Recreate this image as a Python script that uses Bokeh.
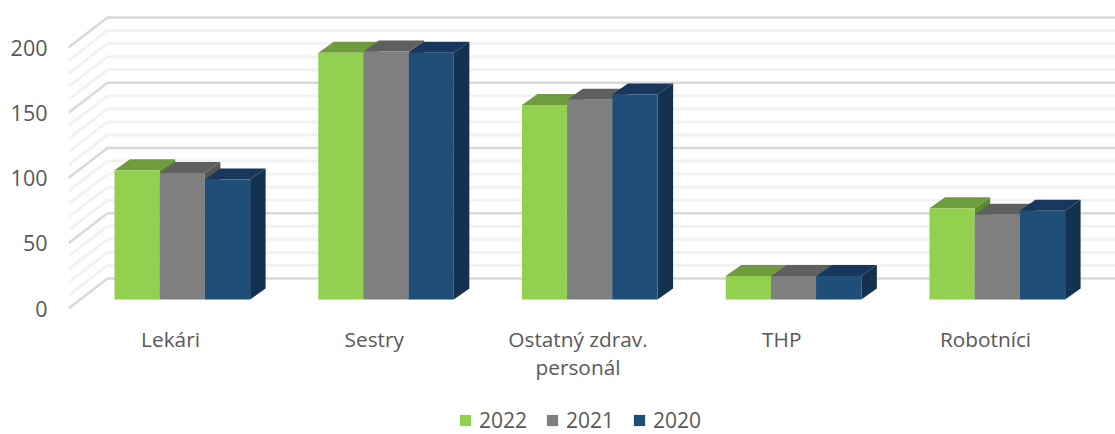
from bokeh.plotting import figure
from bokeh.models import Legend, LegendItem, FixedTicker, ColumnDataSource
from bokeh.core.properties import value
from bokeh.embed import file_html
from bokeh.resources import INLINE

categories = ["Lekári", "Sestry", "Ostatný zdrav.\npersonál", "THP", "Robotníci"]
series_names = ["2022", "2021", "2020"]
v2022 = [99, 189, 149, 18, 70]
v2021 = [97, 190, 153, 18, 65]
v2020 = [92, 189, 157, 18, 68]
y_ticks = [0, 50, 100, 150, 200]
grid_minor = [10, 20, 30, 40, 60, 70, 80, 90, 110, 120, 130, 140, 160, 170, 180, 190]

front = ["#92d050", "#7f7f7f", "#1f4e79"]
top = ["#6f9c3d", "#5f5f5f", "#17375e"]
side = ["#5f8a34", "#555555", "#14324f"]

FONT = "Open Sans"
TEXT = "#595959"
PX_X = 203.75      # px per category
PX_Y = 1.305       # px per value unit
W, H = 1115, 434
LEFT = 68

def dx(px):
    return px / PX_X

def dy(px):
    return px / PX_Y

x0 = (68 - 171) / PX_X
x1 = (1115 - 171) / PX_X
y0 = -(434 - 308) / PX_Y
y1 = 308 / PX_Y

p = figure(width=W, height=H, output_backend="svg", toolbar_location=None,
           x_range=(x0, x1), y_range=(y0, y1),
           min_border_left=LEFT, min_border_right=0, min_border_top=0, min_border_bottom=0,
           x_axis_location=None, background_fill_color="white", border_fill_color="white",
           outline_line_color=None)
p.grid.visible = False

ax = p.yaxis[0]
ax.ticker = FixedTicker(ticks=y_ticks)
ax.axis_line_color = None
ax.major_tick_line_color = None
ax.minor_tick_line_color = None
ax.major_tick_out = 0
ax.major_label_standoff = 21
ax.major_label_text_font = FONT
ax.major_label_text_font_size = "21.5px"
ax.major_label_text_color = TEXT

# back wall and side wall lines
wall_dx, wall_dy = dx(39), dy(30)
for vals, color, lw in [(grid_minor, "#f2f2f2", 3), (y_ticks, "#d9d9d9", 2.5)]:
    xs = [[x0, x0 + wall_dx, x1] for _ in vals]
    ys = [[v, v + wall_dy, v + wall_dy] for v in vals]
    p.multi_line(xs, ys, line_color=color, line_width=lw)

# 3D bars
bar_w = dx(45.2)
off = dx(-57)
base = dy(9)
ddx, ddy = dx(15.5), dy(11)
series = [v2022, v2021, v2020]
legend_items = []
for c in range(len(categories)):
    for s, vals in enumerate(series):
        l = c + off + s * bar_w
        r = l + bar_w
        b = base
        t = base + vals[c]
        p.patch([r, r + ddx, r + ddx, r], [b, b + ddy, t + ddy, t], fill_color=side[s], line_color=None)
        p.patch([l, l + ddx, r + ddx, r], [t, t + ddy, t + ddy, t], fill_color=top[s], line_color=None)
        g = p.quad(left=[l], right=[r], bottom=[b], top=[t], fill_color=front[s], line_color=None)
        if c == 0:
            legend_items.append(LegendItem(label=series_names[s], renderers=[g]))

# category labels
src = ColumnDataSource(dict(x=[i + dx(-1) for i in range(len(categories))],
                            y=[dy(-324.5 + 308)] * len(categories), t=categories))
p.text("x", "y", text="t", source=src, text_font=value(FONT), text_font_size="20.8px",
       text_color=TEXT, text_align="center", text_baseline="top", text_line_height=1.0)

legend = Legend(items=legend_items, orientation="horizontal", location=(390, 0),
                background_fill_alpha=0, border_line_color=None,
                label_text_font=FONT, label_text_font_size="21px", label_text_color=TEXT,
                glyph_width=14, glyph_height=14, spacing=18, label_standoff=7,
                padding=0, margin=0)
p.add_layout(legend, "center")

open("out.html", "w").write(file_html(p, INLINE))
